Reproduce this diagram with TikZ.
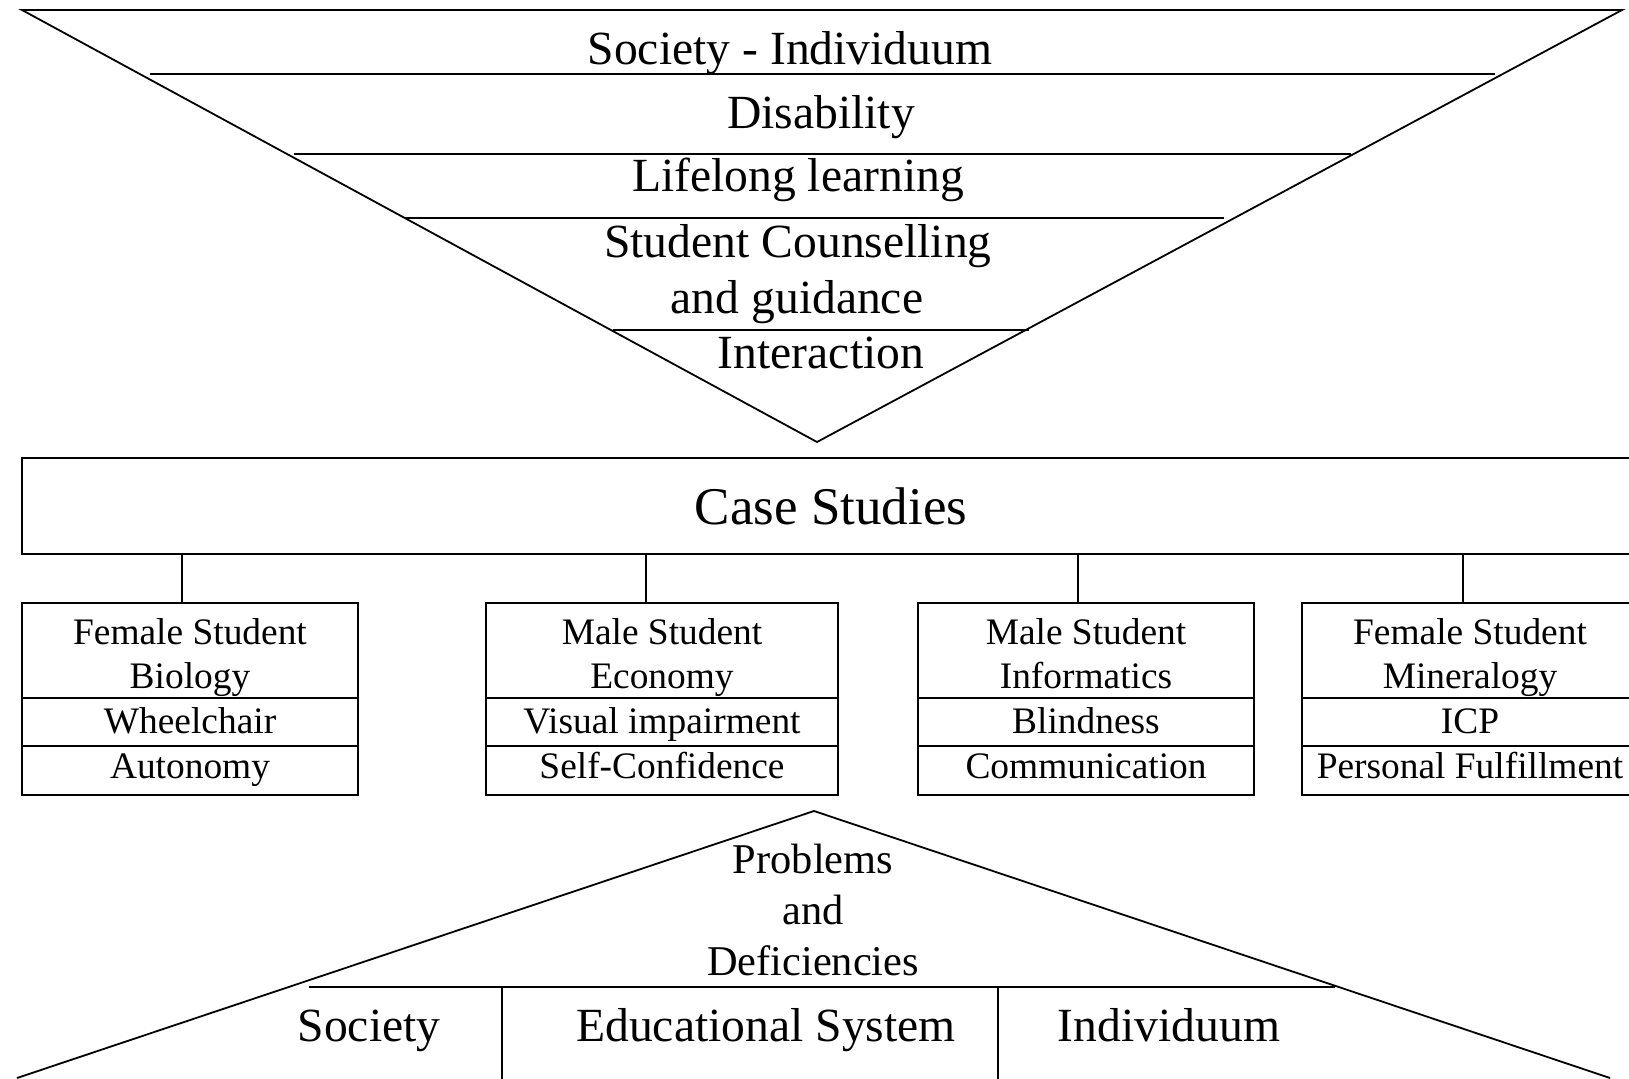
\documentclass[tikz,border=0pt]{standalone}
\usepackage{fontspec}
\setmainfont{Liberation Serif}
\begin{document}
\begin{tikzpicture}[x=1pt,y=-1pt,
  frame/.style={line width=1.8pt, line join=miter},
  lbl/.style={inner sep=0pt, anchor=base},
  bigtext/.style={lbl, font=\fontsize{47.6}{58}\selectfont},
  casetext/.style={lbl, font=\fontsize{53}{64}\selectfont},
  probtext/.style={lbl, font=\fontsize{42.4}{52}\selectfont},
  boxtext/.style={lbl, font=\fontsize{37.4}{45}\selectfont},
  casebox/.style={frame, draw, inner sep=0pt, outer sep=0pt, anchor=north west,
    minimum height=192pt}]
\useasboundingbox (0,0) rectangle (1629,1078);
\clip (0,0) rectangle (1629,1078);

% ---------- upper funnel ----------
\coordinate (ftl) at (22,10);
\coordinate (ftr) at (1622,10);
\coordinate (fap) at (817,442);
\draw[frame] (ftl) -- (ftr) -- (fap) -- cycle;
\draw[frame] (150,74) -- (1495,74);
\draw[frame] (294,154) -- (1351,154);
\draw[frame] (405,218) -- (1224,218);
\draw[frame] (613,330) -- (1029,330);

\node[bigtext] (soc) at (790,65) {Society - Individuum};
\node[bigtext] (dis) at (821,129) {Disability};
\node[bigtext] (lll) at (798,192) {Lifelong learning};
\node[bigtext] (sc1) at (798,257) {Student Counselling};
\node[bigtext] (sc2) at (797,313) {and guidance};
\node[bigtext] (int) at (821,368) {Interaction};

% ---------- case studies ----------
\node[frame, draw, inner sep=0pt, outer sep=0pt, anchor=north west,
      minimum width=1700pt, minimum height=96pt] (cs) at (22,458) {};
\node[casetext] (cst) at (831,524) {Case Studies};

\node[casebox, minimum width=336pt] (b1) at (22,603) {};
\node[casebox, minimum width=352pt] (b2) at (486,603) {};
\node[casebox, minimum width=336pt] (b3) at (918,603) {};
\node[casebox, minimum width=336pt] (b4) at (1302,603) {};

\foreach \b in {b1,b2,b3,b4}{
  \draw[frame] (\b.west |- 0,698) -- (\b.east |- 0,698);
  \draw[frame] (\b.west |- 0,746) -- (\b.east |- 0,746);
}

\draw[frame] (cs.south -| 182,0) -- (b1.north -| 182,0);
\draw[frame] (cs.south -| 646,0) -- (b2.north -| 646,0);
\draw[frame] (cs.south -| 1078,0) -- (b3.north -| 1078,0);
\draw[frame] (cs.south -| 1463,0) -- (b4.north -| 1463,0);

\node[boxtext] (b1a) at (190,644) {Female Student};
\node[boxtext] (b1b) at (190,688) {Biology};
\node[boxtext] (b1c) at (190,733) {Wheelchair};
\node[boxtext] (b1d) at (190,778) {Autonomy};

\node[boxtext] (b2a) at (662,644) {Male Student};
\node[boxtext] (b2b) at (662,688) {Economy};
\node[boxtext] (b2c) at (662,733) {Visual impairment};
\node[boxtext] (b2d) at (662,778) {Self-Confidence};

\node[boxtext] (b3a) at (1086,644) {Male Student};
\node[boxtext] (b3b) at (1086,688) {Informatics};
\node[boxtext] (b3c) at (1086,733) {Blindness};
\node[boxtext] (b3d) at (1086,778) {Communication};

\node[boxtext] (b4a) at (1470,644) {Female Student};
\node[boxtext] (b4b) at (1470,688) {Mineralogy};
\node[boxtext] (b4c) at (1470,733) {ICP};
\node[boxtext] (b4d) at (1470,778) {Personal Fulfillment};

% ---------- lower funnel ----------
\coordinate (gap) at (814,811);
\coordinate (gbl) at (17,1078);
\coordinate (gbr) at (1610,1078);
\draw[frame] (gbl) -- (gap) -- (gbr);
\draw[frame] (309,987) -- (1335,987);
\draw[frame] (502,987) -- (502,1090);
\draw[frame] (998,987) -- (998,1090);

\node[probtext] (pr1) at (813,873) {Problems};
\node[probtext] (pr2) at (813,924) {and};
\node[probtext] (pr3) at (813,975) {Deficiencies};

\node[bigtext] (bsoc) at (369,1041) {Society};
\node[bigtext] (bedu) at (766,1041) {Educational System};
\node[bigtext] (bind) at (1169,1041) {Individuum};
\end{tikzpicture}
\end{document}
